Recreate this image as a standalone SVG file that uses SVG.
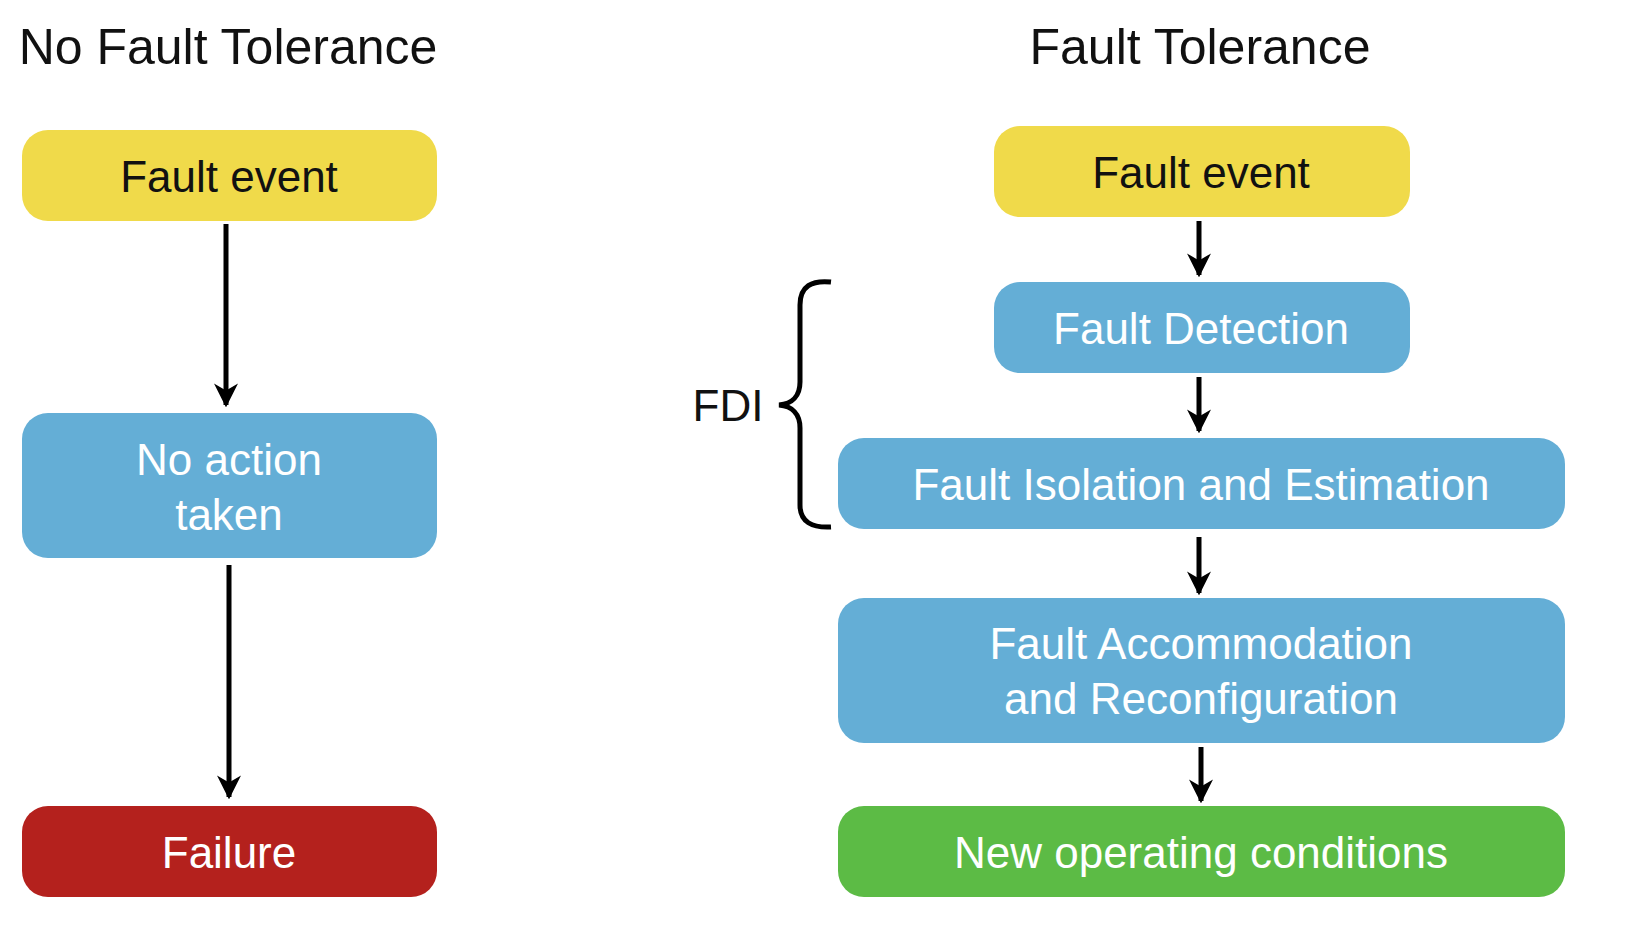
<svg xmlns="http://www.w3.org/2000/svg" width="1628" height="934" viewBox="0 0 1628 934">
<style>
text{font-family:"Liberation Sans",Arial,sans-serif;text-anchor:middle}
.t{font-size:50px;fill:#111}
.n{font-size:44px}
.k{fill:#111}
.w{fill:#fff}
.c{stroke:#000;stroke-width:5;fill:none}
</style>
<defs><marker id="a" markerWidth="8" markerHeight="8" refX="5" refY="4" orient="auto" markerUnits="userSpaceOnUse" viewBox="0 0 10 8"><path d="M0,0L10,4L0,8z"/></marker>
<marker id="h" viewBox="0 0 10 10" refX="9" refY="5" markerWidth="24" markerHeight="24" markerUnits="userSpaceOnUse" orient="auto"><path d="M0,0L10,5L0,10L3,5z" fill="#000"/></marker></defs>
<rect width="1628" height="934" fill="#fff"/>
<text class="t" x="228" y="64">No Fault Tolerance</text>
<text class="t" x="1200" y="64">Fault Tolerance</text>
<g id="connectors">
<line class="c" x1="226" y1="224" x2="226" y2="405" marker-end="url(#h)"/>
<line class="c" x1="229" y1="565" x2="229" y2="797" marker-end="url(#h)"/>
<line class="c" x1="1199" y1="221" x2="1199" y2="275" marker-end="url(#h)"/>
<line class="c" x1="1199" y1="377" x2="1199" y2="431" marker-end="url(#h)"/>
<line class="c" x1="1199" y1="537" x2="1199" y2="593" marker-end="url(#h)"/>
<line class="c" x1="1201" y1="747" x2="1201" y2="801" marker-end="url(#h)"/>
</g>
<g id="n1"><rect x="22" y="130" width="415" height="91" rx="26" fill="#F0DA4A"/><text class="n k" x="229" y="192">Fault event</text></g>
<g id="n2"><rect x="22" y="413" width="415" height="145" rx="26" fill="#64AED6"/><text class="n w" x="229" y="475">No action</text><text class="n w" x="229" y="530">taken</text></g>
<g id="n3"><rect x="22" y="806" width="415" height="91" rx="26" fill="#B4211D"/><text class="n w" x="229" y="868">Failure</text></g>
<g id="r1"><rect x="994" y="126" width="416" height="91" rx="26" fill="#F0DA4A"/><text class="n k" x="1201" y="188">Fault event</text></g>
<g id="r2"><rect x="994" y="282" width="416" height="91" rx="26" fill="#64AED6"/><text class="n w" x="1201" y="344">Fault Detection</text></g>
<g id="r3"><rect x="838" y="438" width="727" height="91" rx="26" fill="#64AED6"/><text class="n w" x="1201" y="500">Fault Isolation and Estimation</text></g>
<g id="r4"><rect x="838" y="598" width="727" height="145" rx="26" fill="#64AED6"/><text class="n w" x="1201" y="659">Fault Accommodation</text><text class="n w" x="1201" y="714">and Reconfiguration</text></g>
<g id="r5"><rect x="838" y="806" width="727" height="91" rx="26" fill="#5CBB45"/><text class="n w" x="1201" y="868">New operating conditions</text></g>
<g id="fdi"><text class="n k" x="728" y="421">FDI</text>
<path d="M831,282 C812,280 800,286 800,305 L800,382 C800,396 792,404 779,405 C792,406 800,414 800,428 L800,505 C800,522 812,528 831,527" fill="none" stroke="#000" stroke-width="5"/></g>
</svg>
